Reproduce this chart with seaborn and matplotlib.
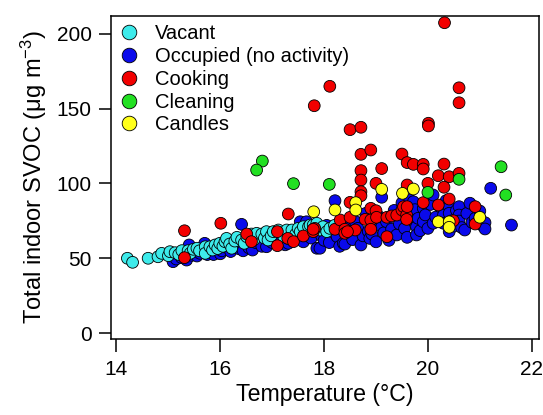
import pandas as pd
import seaborn as sns
import matplotlib.pyplot as plt
from matplotlib.lines import Line2D

# --- data ---
vacant_temp = [14.21, 14.31, 14.61, 14.80, 14.87, 15.00, 15.03, 15.13, 15.20, 15.26,
               15.38, 15.42, 15.48, 15.55, 15.60, 15.71, 15.71, 15.80, 15.85, 15.90,
               15.95, 15.99, 16.05, 16.09, 16.12, 16.18, 16.22, 16.28, 16.32, 16.41,
               16.46, 16.51, 16.60, 16.65, 16.70, 16.80, 16.85, 16.89, 16.92, 16.98,
               17.02, 17.12, 17.18, 17.22, 17.28, 17.31, 17.38, 17.45, 17.50, 17.54,
               17.60, 17.70, 17.73, 17.79, 17.86, 17.92, 17.98, 18.05, 18.11, 18.20]
vacant_svoc = [50.0, 47.3, 50.0, 51.0, 53.3, 51.7, 54.4, 53.7, 52.5, 55.1,
               55.1, 53.3, 56.0, 56.7, 55.0, 57.7, 53.3, 57.7, 55.5, 58.9,
               56.5, 60.0, 58.0, 61.1, 63.3, 59.5, 56.7, 61.5, 64.0, 62.2,
               60.0, 64.4, 66.2, 62.5, 66.7, 66.2, 63.5, 67.8, 62.2, 65.0,
               67.8, 68.9, 66.7, 64.5, 68.9, 63.3, 68.9, 66.0, 70.0, 67.8,
               71.1, 71.1, 72.2, 72.2, 73.4, 68.9, 71.1, 67.8, 70.0, 72.0]

occupied_temp = [15.09, 15.15, 15.25, 15.35, 15.40, 15.45, 15.55, 15.61, 15.65, 15.70,
                 15.75, 15.80, 15.87, 15.92, 16.00, 16.03, 16.10, 16.15, 16.20, 16.30,
                 16.35, 16.41, 16.44, 16.50, 16.55, 16.62, 16.68, 16.75, 16.80, 16.89,
                 16.95, 17.00, 17.05, 17.10, 17.18, 17.25, 17.31, 17.35, 17.42, 17.48,
                 17.54, 17.60, 17.66, 17.70, 17.75, 17.80, 17.86, 17.92, 17.95, 18.00,
                 18.05, 18.10, 18.15, 18.21, 18.25, 18.30, 18.37, 18.40, 18.45, 18.50,
                 18.55, 18.60, 18.65, 18.71, 18.75, 18.80, 18.85, 18.88, 18.92, 18.95,
                 19.00, 19.05, 19.11, 19.11, 19.15, 19.20, 19.25, 19.30, 19.35, 19.40,
                 19.45, 19.50, 19.55, 19.60, 19.65, 19.68, 19.72, 19.72, 19.75, 19.78,
                 19.78, 19.81, 19.85, 19.91, 19.91, 19.95, 20.00, 20.05, 20.10, 20.10,
                 20.15, 20.23, 20.30, 20.30, 20.35, 20.41, 20.41, 20.41, 20.45, 20.50,
                 20.55, 20.60, 20.60, 20.60, 20.65, 20.71, 20.75, 20.81, 20.85, 20.91,
                 21.00, 21.00, 21.05, 21.10, 21.10, 21.21, 21.61]
occupied_svoc = [47.7, 49.5, 50.5, 48.8, 58.9, 52.0, 51.5, 53.3, 55.5, 60.0,
                 52.5, 56.0, 52.5, 58.5, 53.0, 55.0, 57.5, 59.5, 54.5, 61.0,
                 56.5, 72.7, 55.0, 63.5, 57.0, 55.5, 60.5, 62.5, 58.0, 57.7,
                 64.5, 60.5, 66.0, 61.5, 63.0, 59.0, 60.0, 65.5, 62.5, 67.5,
                 74.4, 61.0, 74.4, 66.5, 63.5, 69.5, 56.7, 56.7, 65.0, 62.0,
                 72.0, 60.5, 68.0, 88.5, 64.5, 58.0, 60.0, 59.5, 70.5, 66.0,
                 62.5, 74.5, 70.0, 58.9, 65.0, 80.0, 68.0, 63.3, 66.2, 72.5,
                 61.0, 78.0, 71.1, 90.8, 67.0, 74.5, 62.0, 69.5, 82.0, 65.6,
                 73.0, 87.0, 70.0, 64.0, 89.0, 76.0, 87.8, 78.9, 82.5, 71.1,
                 65.6, 76.7, 68.5, 83.4, 74.4, 79.0, 70.0, 86.0, 92.3, 73.4,
                 77.5, 84.5, 78.9, 73.4, 88.5, 84.5, 80.1, 67.8, 75.0, 71.5,
                 82.0, 84.5, 78.9, 74.9, 70.5, 68.9, 80.0, 86.8, 74.0, 76.7,
                 81.6, 76.7, 72.0, 73.8, 69.6, 96.8, 72.2]

cooking_temp = [20.32, 18.11, 20.60, 20.60, 17.81, 18.50, 18.71, 20.01, 20.01, 18.71,
                18.90, 19.50, 19.60, 19.72, 19.91, 19.91, 20.31, 18.71, 19.11, 18.71,
                20.20, 20.41, 20.60, 19.00, 19.60, 20.00, 20.31, 18.71, 18.71, 18.50,
                19.91, 20.20, 20.41, 20.91, 18.90, 19.00,
                15.31, 16.01, 15.31, 16.51, 16.60, 17.10, 17.10, 17.31, 17.30, 17.41,
                17.60, 17.79, 17.82, 17.79, 18.21, 18.31, 18.40, 18.40, 18.50, 18.60,
                18.79, 18.90, 18.90, 19.01, 19.21, 19.21, 19.30, 19.40, 19.50, 19.53,
                19.59, 19.60, 19.59, 20.91, 20.49, 18.45]
cooking_svoc = [207.5, 165.0, 164.0, 154.0, 152.0, 136.0, 137.6, 140.3, 138.5, 119.5,
                122.4, 119.7, 114.0, 112.8, 112.8, 109.7, 113.0, 108.6, 110.0, 102.3,
                105.2, 104.5, 106.8, 100.1, 99.0, 100.1, 97.5, 94.5, 91.8, 87.4,
                87.2, 85.6, 89.6, 84.5, 83.4, 81.8,
                68.4, 73.4, 50.4, 66.2, 61.1, 67.8, 58.4, 79.6, 63.3, 61.1,
                64.9, 67.8, 70.0, 69.4, 69.4, 75.6, 69.4, 66.7, 77.4, 68.9,
                76.0, 75.6, 69.4, 77.4, 77.4, 64.4, 78.3, 78.9, 82.3, 84.5,
                78.9, 84.5, 76.0, 72.9, 75.1, 67.8]

cleaning_temp = [16.81, 16.70, 17.41, 18.10, 20.00, 20.60, 21.41, 21.50]
cleaning_svoc = [115.0, 109.0, 99.9, 99.4, 94.1, 102.8, 111.2, 92.3]

candles_temp = [17.80, 18.21, 18.61, 18.61, 19.11, 19.51, 19.72, 20.20, 20.41, 20.41, 21.00]
candles_svoc = [81.1, 82.3, 87.2, 82.3, 96.1, 93.4, 96.3, 74.4, 74.4, 70.7, 77.4]

categories = ['Vacant', 'Occupied (no activity)', 'Cooking', 'Cleaning', 'Candles']
colors = ['#3DEBEB', '#0A0AEB', '#F20000', '#22E022', '#FFFF1A']

# drawing order: occupied underneath, then vacant, cooking, cleaning, candles
parts = [
    ('Occupied (no activity)', occupied_temp, occupied_svoc),
    ('Vacant', vacant_temp, vacant_svoc),
    ('Cooking', cooking_temp, cooking_svoc),
    ('Cleaning', cleaning_temp, cleaning_svoc),
    ('Candles', candles_temp, candles_svoc),
]
df = pd.concat([pd.DataFrame({'temp': t, 'svoc': v, 'group': g}) for g, t, v in parts],
               ignore_index=True)

sns.set_style('white')
plt.rcParams['font.family'] = ['Liberation Sans', 'DejaVu Sans']
plt.rcParams['mathtext.default'] = 'regular'
plt.rcParams['text.color'] = 'black'
plt.rcParams['axes.labelcolor'] = 'black'

fig = plt.figure(figsize=(5.43, 4.15), dpi=100)
ax = fig.add_axes([0.2044, 0.1831, 0.7882, 0.7783])

palette = dict(zip(categories, colors))
sns.scatterplot(data=df, x='temp', y='svoc', hue='group', hue_order=categories,
                palette=palette, s=72, edgecolor='black', linewidth=0.6,
                legend=False, ax=ax)

ax.set_xlim(13.894, 22.14)
ax.set_ylim(-4.0, 212)
ax.set_xticks([14, 16, 18, 20, 22])
ax.set_yticks([0, 50, 100, 150, 200])
ax.tick_params(axis='both', direction='out', length=9, width=1.1,
               labelsize=15, colors='black', pad=5, bottom=True, left=True)
ax.tick_params(axis='x', pad=6)
for sp in ax.spines.values():
    sp.set_color('black')
    sp.set_linewidth(1.1)

ax.set_xlabel('Temperature (°C)', fontsize=16.7, labelpad=3)
ax.set_ylabel('Total indoor SVOC (μg m$^{-3}$)', fontsize=17, labelpad=5)

handles = [Line2D([], [], marker='o', linestyle='none', markersize=10.5,
                  markerfacecolor=c, markeredgecolor='black', markeredgewidth=0.6)
           for c in colors]
ax.legend(handles, categories, loc='upper left', bbox_to_anchor=(0.0, 1.0),
          frameon=False, fontsize=14.5, handlelength=1.0, handletextpad=0.8,
          labelspacing=0.19, borderaxespad=0.15, borderpad=0.25)

fig.savefig('out.png', dpi=100)
